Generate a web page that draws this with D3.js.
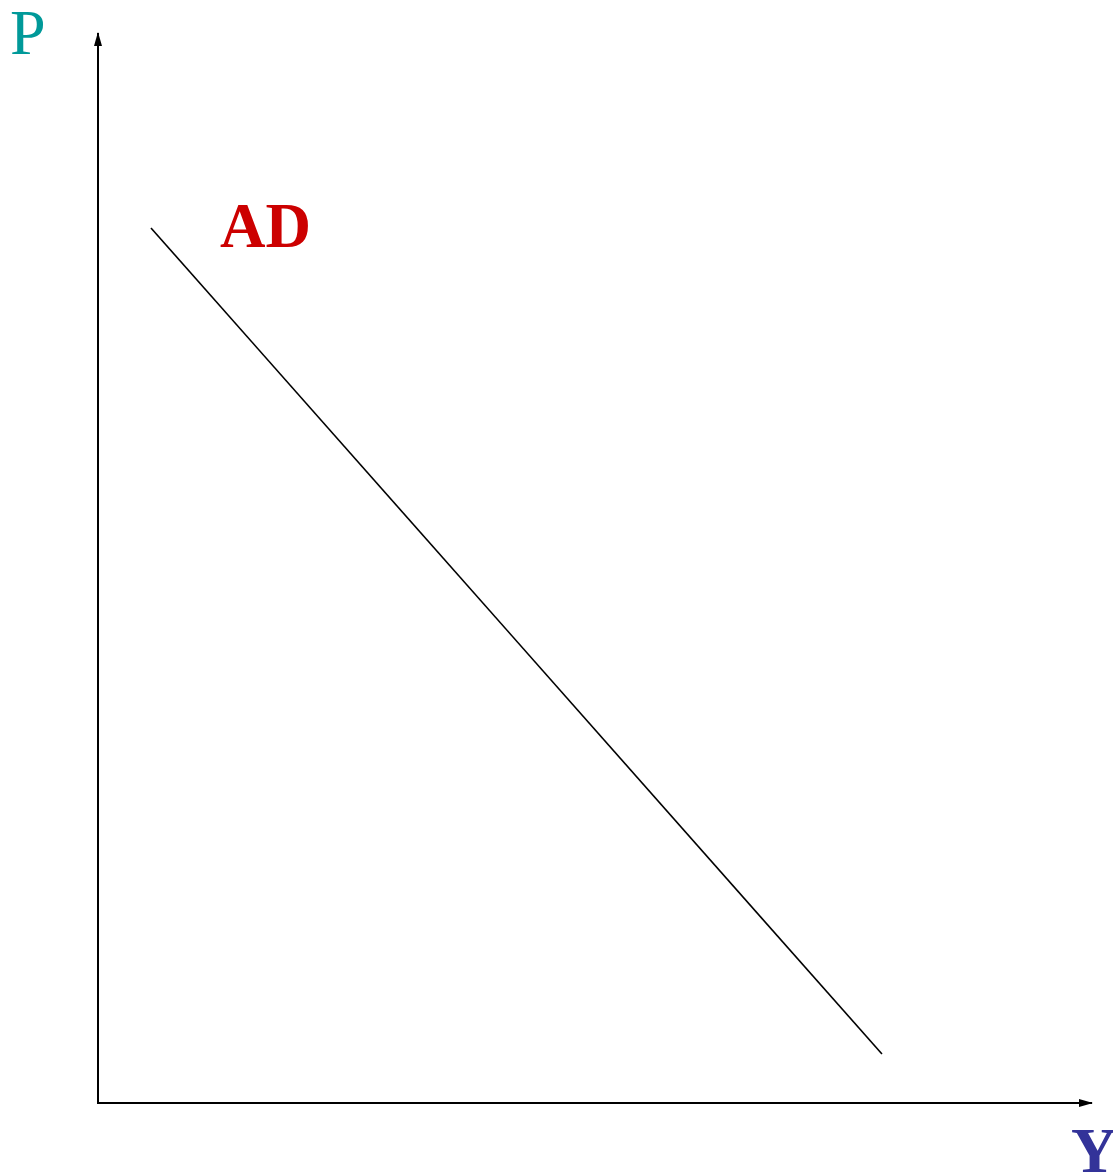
<!DOCTYPE html>
<html><head><meta charset="utf-8">
<script src="https://cdn.jsdelivr.net/npm/d3@7"></script>
<style>body{margin:0;background:#fff}svg{display:block}</style>
</head><body>
<script>
// Data (abstract units)
const curveName = ["AD"];
const adX = [5.33, 78.87];
const adY = [81.78, 4.58];
const axisLabels = ["P", "Y"];

const W = 1113, H = 1175;
const svg = d3.select("body").append("svg").attr("width", W).attr("height", H);
const x = d3.scaleLinear().domain([0, 100]).range([98, 1092]);
const y = d3.scaleLinear().domain([0, 100]).range([1103, 33]);

const defs = svg.append("defs");
defs.append("marker").attr("id", "arr").attr("viewBox", "0 0 14 8")
  .attr("refX", 13).attr("refY", 4).attr("markerWidth", 14).attr("markerHeight", 8)
  .attr("markerUnits", "userSpaceOnUse").attr("orient", "auto")
  .append("path").attr("d", "M0,0L14,4L0,8Z").attr("fill", "#000");

// axes
svg.append("line").attr("x1", x(0)).attr("y1", y(0)).attr("x2", x(0)).attr("y2", y(100))
  .attr("stroke", "#000").attr("stroke-width", 2).attr("marker-end", "url(#arr)");
svg.append("line").attr("x1", x(0) - 1).attr("y1", y(0)).attr("x2", x(100)).attr("y2", y(0))
  .attr("stroke", "#000").attr("stroke-width", 2).attr("marker-end", "url(#arr)");

// AD curve
const pts = adX.map((d, i) => [d, adY[i]]);
svg.append("path").datum(pts)
  .attr("d", d3.line().x(d => x(d[0])).y(d => y(d[1])))
  .attr("fill", "none").attr("stroke", "#000").attr("stroke-width", 1.6);

// labels
svg.append("text").attr("x", 10).attr("y", 54).text(axisLabels[0])
  .attr("font-family", "Liberation Serif").attr("font-size", 64).attr("fill", "#009999");
svg.append("text").attr("x", 1071).attr("y", 1172).text(axisLabels[1])
  .attr("font-family", "Liberation Serif").attr("font-weight", "bold").attr("font-size", 64).attr("fill", "#333399");
svg.append("text").attr("x", 220).attr("y", 247).text(curveName[0])
  .attr("font-family", "Liberation Serif").attr("font-weight", "bold").attr("font-size", 63).attr("fill", "#cc0000");
</script>
</body></html>
